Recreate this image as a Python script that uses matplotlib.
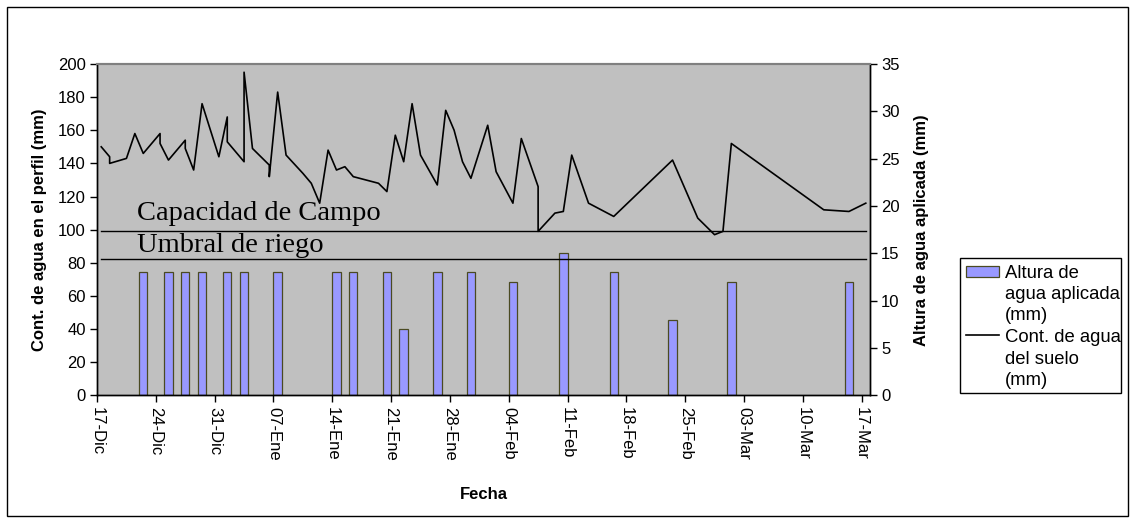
import matplotlib
matplotlib.use('Agg')
import matplotlib.pyplot as plt
from matplotlib.patches import Rectangle
from matplotlib.lines import Line2D

# Dias contados desde el 17-Dic (cada dato se dibuja en el centro del dia)
dias_suelo = [0, 1, 1, 3, 4, 5, 7, 7, 8, 10, 10, 11, 12, 14, 15, 15, 17, 17, 18, 20,
              20, 21, 22, 24, 25, 26, 27, 28, 29, 30, 33, 34, 35, 36, 37, 38, 40, 41,
              42, 43, 44, 46, 47, 49, 50, 52, 52, 54, 55, 56, 58, 61, 68, 71, 73, 74,
              75, 86, 89, 91]
cont_suelo = [150, 144, 140, 143, 158, 146, 158, 152, 142, 154, 149, 136, 176, 144,
              168, 153, 141, 195, 149, 139, 132, 183, 145, 134, 128, 116, 148, 136,
              138, 132, 128, 123, 157, 141, 176, 145, 127, 172, 160, 141, 131, 163,
              135, 116, 155, 126, 99, 110, 111, 145, 116, 108, 142, 107, 97, 99, 152,
              112, 111, 116]

dias_riego = [5, 8, 10, 12, 15, 17, 21, 28, 30, 34, 36, 40, 44, 49, 55, 61, 68, 75, 89]
altura_riego = [13, 13, 13, 13, 13, 13, 13, 13, 13, 13, 7, 13, 13, 12, 15, 13, 8, 12, 12]

capacidad_campo = 99
umbral_riego = 82.5

etiquetas_fecha = ['17-Dic', '24-Dic', '31-Dic', '07-Ene', '14-Ene', '21-Ene', '28-Ene',
                   '04-Feb', '11-Feb', '18-Feb', '25-Feb', '03-Mar', '10-Mar', '17-Mar']

etiqueta_barras = ['Altura de', 'agua aplicada', '(mm)']
etiqueta_linea = ['Cont. de agua', 'del suelo', '(mm)']

plt.rcParams['font.family'] = ['Liberation Sans', 'DejaVu Sans']
plt.rcParams['font.size'] = 12

W, H = 1135, 523
fig = plt.figure(figsize=(W / 100, H / 100), dpi=100)


def fx(px):
    return px / W


def fy(py):
    return 1 - py / H


ax2 = fig.add_axes([0.0855, 0.2438, 0.681, 0.634])
ax = ax2.twinx()
ax2.yaxis.tick_right()
ax2.yaxis.set_label_position('right')
ax.yaxis.tick_left()
ax.yaxis.set_label_position('left')
ax.set_zorder(ax2.get_zorder() + 1)
ax.patch.set_visible(False)
ax2.set_facecolor('#C0C0C0')

# barras de riego (eje derecho)
x_riego = [d + 0.5 for d in dias_riego]
ax2.bar(x_riego, altura_riego, width=1.0, color='#9999FF', edgecolor='#4a4a22',
        linewidth=0.9)
ax2.set_ylim(0, 35)
ax2.set_yticks(range(0, 36, 5))

# contenido de agua (eje izquierdo)
x_suelo = [d + 0.5 for d in dias_suelo]
ax.plot(x_suelo, cont_suelo, color='black', linewidth=1.2)
ax.plot([0.5, 91.5], [capacidad_campo] * 2, color='black', linewidth=1.0)
ax.plot([0.5, 91.5], [umbral_riego] * 2, color='black', linewidth=1.0)
ax.text(4.8, 106, 'Capacidad de Campo', family='Liberation Serif', fontsize=20.5,
        va='baseline')
ax.text(4.8, 86.5, 'Umbral de riego', family='Liberation Serif', fontsize=20.5,
        va='baseline')
ax.set_ylim(0, 200)
ax.set_yticks(range(0, 201, 20))
ax.set_xlim(0, 92)
ax2.set_xlim(0, 92)
ax2.set_xticks(range(0, 92, 7))
ax2.set_xticklabels(etiquetas_fecha, rotation=-90, ha='center', va='top')

for a in (ax, ax2):
    a.tick_params(direction='out', length=5, width=1, colors='black', labelsize=12,
                  pad=3)
    for s in ('left', 'right', 'bottom'):
        a.spines[s].set_color('black')
        a.spines[s].set_linewidth(1.0)
    a.spines['top'].set_color('#808080')
    a.spines['top'].set_linewidth(1.5)
ax.tick_params(axis='x', which='both', length=0, labelbottom=False)

ax.set_ylabel('Cont. de agua en el perfil (mm)', fontsize=12, fontweight='bold',
              labelpad=8)
ax2.set_ylabel('Altura de agua aplicada (mm)', fontsize=12, fontweight='bold',
               labelpad=10)
ax2.set_xlabel('Fecha', fontsize=12, fontweight='bold', labelpad=19)

# leyenda (dibujada a mano para alinear las claves con la primera linea)
fig.add_artist(Rectangle((fx(960), fy(393)), fx(1121) - fx(960), fy(258) - fy(393),
                         transform=fig.transFigure, facecolor='white',
                         edgecolor='black', linewidth=1.0))
fig.add_artist(Rectangle((fx(966), fy(277)), fx(999) - fx(966), fy(266) - fy(277),
                         transform=fig.transFigure, facecolor='#9999FF',
                         edgecolor='#4a4a22', linewidth=0.9))
fig.add_artist(Line2D([fx(966), fx(999)], [fy(335), fy(335)],
                      transform=fig.transFigure, color='black', linewidth=1.2))
renglones = etiqueta_barras + etiqueta_linea
for i, r in enumerate(renglones):
    fig.text(fx(1005), fy(277.5 + 21.5 * i), r, fontsize=13.3, va='baseline',
             ha='left')

# borde del grafico
fig.add_artist(Rectangle((fx(7), 7 / H), 1 - 14 / W, 1 - 14 / H,
                         transform=fig.transFigure, fill=False,
                         edgecolor='black', linewidth=1.0))

fig.savefig('out.png', dpi=100)
